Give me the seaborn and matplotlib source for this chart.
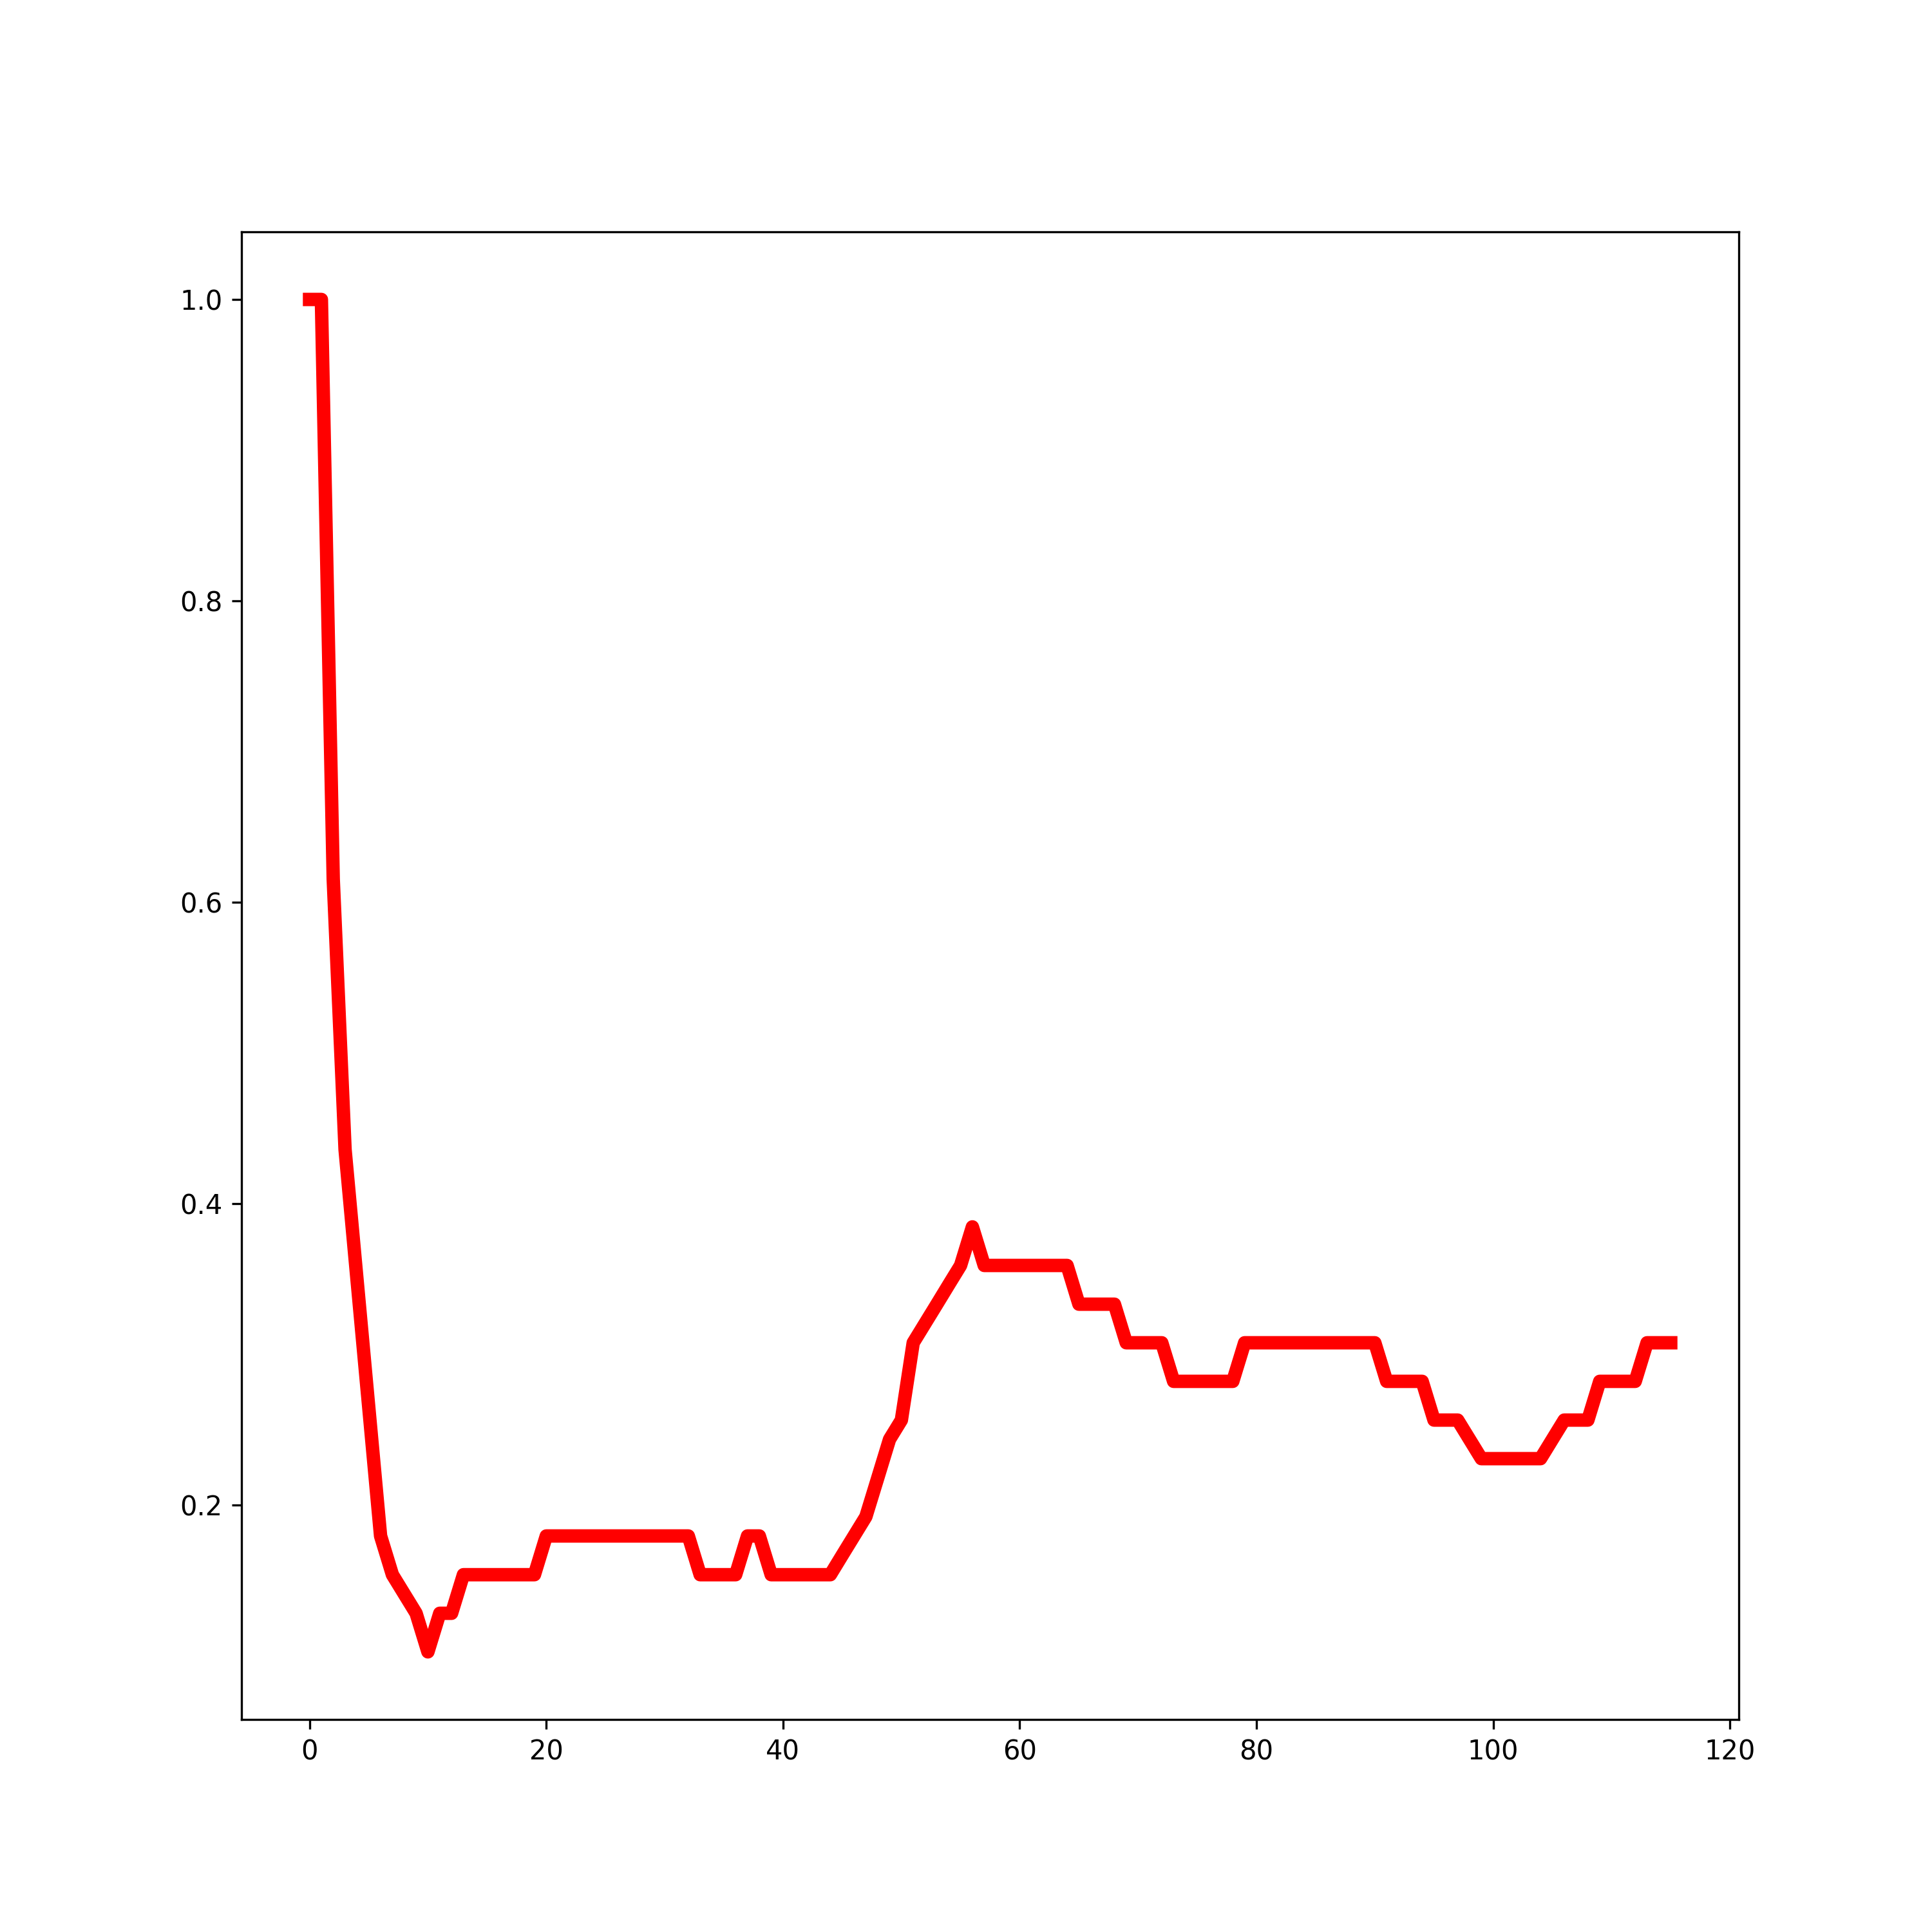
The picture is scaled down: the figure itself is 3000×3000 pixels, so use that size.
import numpy as np
import seaborn as sns
import matplotlib.pyplot as plt

# ratio values, one per step (0..115)
ratio = [
    1.0, 1.0, 0.6154, 0.4359, 0.3504, 0.2650, 0.1795, 0.1538, 0.1410, 0.1282,
    0.1026, 0.1282, 0.1282,
    0.1538, 0.1538, 0.1538, 0.1538, 0.1538, 0.1538, 0.1538,
    0.1795, 0.1795, 0.1795, 0.1795, 0.1795, 0.1795, 0.1795, 0.1795, 0.1795,
    0.1795, 0.1795, 0.1795, 0.1795,
    0.1538, 0.1538, 0.1538, 0.1538,
    0.1795, 0.1795,
    0.1538, 0.1538, 0.1538, 0.1538, 0.1538, 0.1538,
    0.1667, 0.1795, 0.1923, 0.2179, 0.2436, 0.2564, 0.3077, 0.3205, 0.3333,
    0.3462, 0.3590, 0.3846,
    0.3590, 0.3590, 0.3590, 0.3590, 0.3590, 0.3590, 0.3590, 0.3590,
    0.3333, 0.3333, 0.3333, 0.3333,
    0.3077, 0.3077, 0.3077, 0.3077,
    0.2821, 0.2821, 0.2821, 0.2821, 0.2821, 0.2821,
    0.3077, 0.3077, 0.3077, 0.3077, 0.3077, 0.3077, 0.3077, 0.3077, 0.3077,
    0.3077, 0.3077, 0.3077,
    0.2821, 0.2821, 0.2821, 0.2821,
    0.2564, 0.2564, 0.2564,
    0.2436,
    0.2308, 0.2308, 0.2308, 0.2308, 0.2308, 0.2308,
    0.2436,
    0.2564, 0.2564, 0.2564,
    0.2821, 0.2821, 0.2821, 0.2821,
    0.3077, 0.3077, 0.3077,
]
steps = np.arange(len(ratio))

fig, ax = plt.subplots(figsize=(10, 10))
sns.lineplot(x=steps, y=ratio, color='red', linewidth=5,
             solid_capstyle='projecting', solid_joinstyle='round', ax=ax)

fig.savefig('out.png', dpi=300)
